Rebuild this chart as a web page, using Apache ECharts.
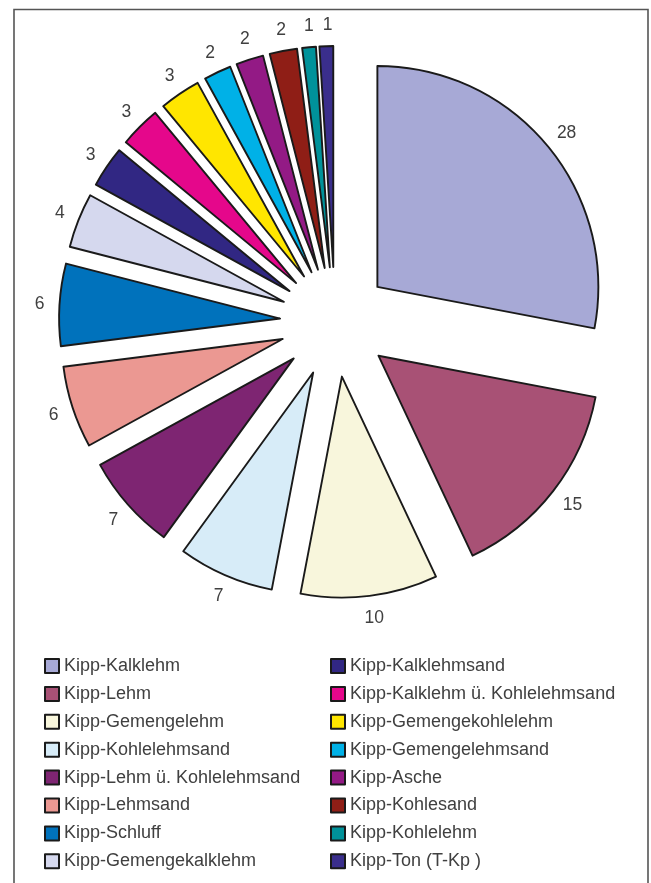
<!DOCTYPE html>
<html>
<head>
<meta charset="utf-8">
<title>Kippsubstrate</title>
<script src="https://cdn.jsdelivr.net/npm/echarts@6/dist/echarts.min.js"></script>
<style>
  html, body { margin: 0; padding: 0; background: #ffffff; }
  #chart { width: 651px; height: 883px; }
</style>
</head>
<body>
<div id="chart"></div>
<script>
// Substrate classes, percentage shares and fill colours
const categories = [
  'Kipp-Kalklehm', 'Kipp-Lehm', 'Kipp-Gemengelehm', 'Kipp-Kohlelehmsand',
  'Kipp-Lehm ü. Kohlelehmsand', 'Kipp-Lehmsand', 'Kipp-Schluff', 'Kipp-Gemengekalklehm',
  'Kipp-Kalklehmsand', 'Kipp-Kalklehm ü. Kohlelehmsand', 'Kipp-Gemengekohlelehm', 'Kipp-Gemengelehmsand',
  'Kipp-Asche', 'Kipp-Kohlesand', 'Kipp-Kohlelehm', 'Kipp-Ton (T-Kp )'
];
const values = [28, 15, 10, 7, 7, 6, 6, 4, 3, 3, 3, 2, 2, 2, 1, 1];
const colors = [
  '#a7a9d6', '#a85175', '#f8f6dc', '#d7ecf8',
  '#7e2572', '#eb9892', '#0072bc', '#d5d8ee',
  '#312783', '#e5078b', '#ffe600', '#00b1e7',
  '#931a85', '#8f1e16', '#00929a', '#3a2e8c'
];

const chart = echarts.init(document.getElementById('chart'), null, { renderer: 'canvas' });

const pieData = categories.map((name, i) => ({
  name: name,
  value: values[i],
  selected: true,
  itemStyle: { color: colors[i] }
}));

const labelData = categories.map((name, i) => ({ name: name, value: values[i] }));

const textColor = '#404040';
const fontFamily = 'Liberation Sans, Arial, sans-serif';
const legendText = { color: textColor, fontSize: 18, fontFamily: fontFamily, lineHeight: 18 };

const outline = { borderColor: '#1a1a1a', borderWidth: 1.9 };

chart.setOption({
  animation: false,
  backgroundColor: '#ffffff',
  graphic: [{
    type: 'polyline',
    shape: { points: [[14, 883], [14, 9.5], [648, 9.5], [648, 883]] },
    style: { stroke: '#555555', lineWidth: 1.6, fill: null },
    silent: true
  }],
  legend: [
    {
      data: categories.slice(0, 8),
      orient: 'vertical',
      left: 44, top: 657,
      padding: 0,
      itemWidth: 14, itemHeight: 14, itemGap: 9.9,
      icon: 'rect',
      selectedMode: false,
      textStyle: legendText
    },
    {
      data: categories.slice(8),
      orient: 'vertical',
      left: 330, top: 657,
      padding: 0,
      itemWidth: 14, itemHeight: 14, itemGap: 9.9,
      icon: 'rect',
      selectedMode: false,
      textStyle: legendText
    }
  ],
  series: [
    {
      type: 'pie',
      center: [335, 322],
      radius: [0, 221],
      startAngle: 90,
      clockwise: true,
      selectedMode: 'multiple',
      selectedOffset: 55,
      avoidLabelOverlap: false,
      label: { show: false },
      labelLine: { show: false },
      itemStyle: outline,
      emphasis: { disabled: true },
      select: { itemStyle: outline },
      data: pieData
    },
    {
      // transparent ring carrying the value labels outside the slices
      type: 'pie',
      center: [337, 323],
      radius: [287, 303],
      startAngle: 90,
      clockwise: true,
      silent: true,
      selectedMode: false,
      legendHoverLink: false,
      itemStyle: { color: 'rgba(0,0,0,0)', borderWidth: 0 },
      emphasis: { disabled: true },
      label: {
        show: true,
        position: 'inside',
        formatter: '{c}',
        color: textColor,
        fontSize: 17.5,
        fontFamily: fontFamily
      },
      labelLine: { show: false },
      data: labelData
    }
  ]
});
</script>
</body>
</html>
